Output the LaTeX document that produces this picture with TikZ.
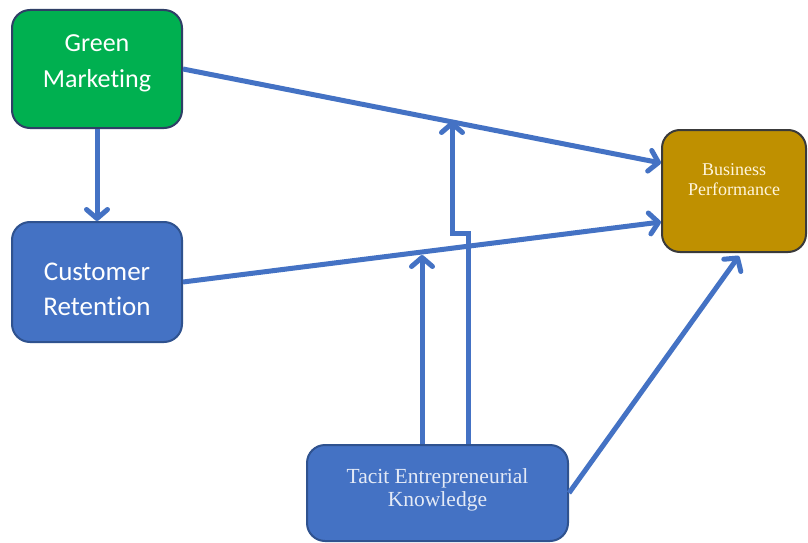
\documentclass[tikz,border=0pt]{standalone}
\usepackage{fontspec}
\setmainfont{Liberation Serif}
\newfontfamily\calib[Ligatures=NoCommon]{Carlito}
\usetikzlibrary{arrows.meta,calc}
\definecolor{lineblue}{HTML}{4472C4}
\definecolor{boxblue}{HTML}{4472C4}
\definecolor{boxgreen}{HTML}{00B050}
\definecolor{boxgold}{HTML}{BF9000}
\definecolor{navyedge}{HTML}{2F3F66}
\definecolor{blueedge}{HTML}{2F528F}
\definecolor{greyedge}{HTML}{3A3A3A}
\definecolor{palebluetext}{HTML}{E4EAF6}
\definecolor{creamtext}{HTML}{FFF5DC}
\tikzset{
  box/.style={rectangle, rounded corners=18pt, line width=2pt, inner sep=0pt},
  sanstext/.style={font=\calib\fontsize{26}{36}\selectfont, text=white, align=center, inner sep=0pt},
  serifsmall/.style={font=\fontsize{18}{20}\selectfont, text=creamtext, align=center, inner sep=0pt},
  serifmid/.style={font=\fontsize{21.5}{23}\selectfont, text=palebluetext, align=center, inner sep=0pt},
  conn/.style={draw=lineblue, line width=5pt, -{Straight Barb[length=9pt,width=21pt,line cap=round,line join=round]}},
}
\begin{document}
\begin{tikzpicture}[x=1pt,y=-1pt]
\useasboundingbox[fill=white] (0,0) rectangle (808,543);
% boxes
\node[box, fill=boxgreen, draw=navyedge, minimum width=170pt, minimum height=118pt] (gm) at (97,69) {};
\node[sanstext] (gmt) at (97,63) {Green\\Marketing};
\node[box, fill=boxblue, draw=blueedge, minimum width=170pt, minimum height=120pt] (cr) at (97,282) {};
\node[sanstext, font=\calib\fontsize{27}{35}\selectfont] (crt) at (97,289) {Customer\\Retention};
\node[box, fill=boxgold, draw=greyedge, minimum width=144pt, minimum height=122pt] (bp) at (734,191) {};
\node[serifsmall] (bpt) at (734,180) {Business\\Performance};
\node[box, fill=boxblue, draw=blueedge, minimum width=261pt, minimum height=96pt] (tk) at (437.5,493) {};
\node[serifmid] (tkt) at (437.5,490) {Tacit Entrepreneurial\\Knowledge};
% moderating points on the lines
\coordinate (m1) at (452,121);
\coordinate (m2) at (422,255);
\coordinate (j1) at (468,233);
\coordinate (j2) at (452,233);
% connectors
\draw[conn] (gm.south) -- (cr.north);
\draw[conn] (gm.east) -- ([yshift=28pt]bp.west);
\draw[conn] (cr.east) -- ([yshift=-31pt]bp.west);
\draw[conn] ([xshift=30.5pt]tk.north) -- (j1) -- (j2) -- (m1);
\draw[conn] ([xshift=-15.5pt]tk.north) -- (m2);
\draw[conn] (tk.east) -- ([xshift=5pt,yshift=-3pt]bp.south);
\end{tikzpicture}
\end{document}
